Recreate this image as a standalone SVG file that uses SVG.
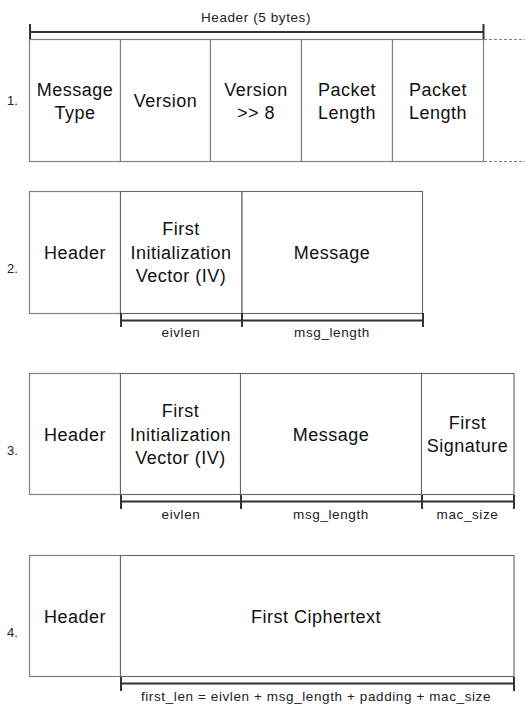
<svg xmlns="http://www.w3.org/2000/svg" width="525" height="705" viewBox="0 0 525 705">
<style>
.box{fill:#fff;stroke:#808080;stroke-width:1.2}
.box2{fill:#fff;stroke:#666;stroke-width:1.1}
.t{font-family:"Liberation Sans",Arial,sans-serif;font-size:18px;letter-spacing:0.5px;fill:#111;text-anchor:middle}
.s{font-family:"Liberation Sans",Arial,sans-serif;font-size:13.5px;letter-spacing:0.6px;fill:#222;text-anchor:middle}
.n{font-family:"Liberation Sans",Arial,sans-serif;font-size:13px;fill:#222;text-anchor:start}
.br{stroke:#333;stroke-width:2;fill:none}
.dash{stroke:#808080;stroke-width:1;stroke-dasharray:3,2;fill:none}
</style>
<rect width="525" height="705" fill="#fff"/>
<g id="row1">
  <text class="s" x="256" y="22">Header (5 bytes)</text>
  <text class="n" x="7" y="105">1.</text>
  <g id="r1-msgtype"><rect class="box" x="29.5" y="39.5" width="91" height="122"/><text class="t" x="75" y="96">Message</text><text class="t" x="75" y="119">Type</text></g>
  <g id="r1-version"><rect class="box" x="120.5" y="39.5" width="90" height="122"/><text class="t" x="165.5" y="107">Version</text></g>
  <g id="r1-version8"><rect class="box" x="210.5" y="39.5" width="91" height="122"/><text class="t" x="256" y="96">Version</text><text class="t" x="256" y="119">&gt;&gt; 8</text></g>
  <g id="r1-plen1"><rect class="box" x="301.5" y="39.5" width="91" height="122"/><text class="t" x="347" y="96">Packet</text><text class="t" x="347" y="119">Length</text></g>
  <g id="r1-plen2"><rect class="box" x="392.5" y="39.5" width="91" height="122"/><text class="t" x="438" y="96">Packet</text><text class="t" x="438" y="119">Length</text></g>
</g>
<g id="row2">
  <text class="n" x="7" y="273">2.</text>
  <g id="r2-header"><rect class="box" x="29.5" y="191.5" width="91" height="122"/><text class="t" x="75" y="259">Header</text></g>
  <g id="r2-iv"><rect class="box2" x="120.5" y="191.5" width="121.5" height="122"/><text class="t" x="181" y="235">First</text><text class="t" x="181" y="259">Initialization</text><text class="t" x="181" y="282">Vector (IV)</text></g>
  <g id="r2-msg"><rect class="box2" x="242" y="191.5" width="180.5" height="122"/><text class="t" x="332" y="259">Message</text></g>
  <text class="s" x="181" y="337">eivlen</text>
  <text class="s" x="332" y="337">msg_length</text>
</g>
<g id="row3">
  <text class="n" x="7" y="455">3.</text>
  <g id="r3-header"><rect class="box" x="29.5" y="373.5" width="91" height="121"/><text class="t" x="75" y="441">Header</text></g>
  <g id="r3-iv"><rect class="box2" x="120.5" y="373.5" width="120" height="121"/><text class="t" x="180.5" y="417">First</text><text class="t" x="180.5" y="441">Initialization</text><text class="t" x="180.5" y="464">Vector (IV)</text></g>
  <g id="r3-msg"><rect class="box2" x="240.5" y="373.5" width="181" height="121"/><text class="t" x="331" y="441">Message</text></g>
  <g id="r3-sig"><rect class="box2" x="421.5" y="373.5" width="92.5" height="121"/><text class="t" x="467.5" y="429">First</text><text class="t" x="467.5" y="452">Signature</text></g>
  <text class="s" x="181" y="519">eivlen</text>
  <text class="s" x="331" y="519">msg_length</text>
  <text class="s" x="467.5" y="519">mac_size</text>
</g>
<g id="row4">
  <text class="n" x="7" y="637">4.</text>
  <g id="r4-header"><rect class="box" x="29.5" y="555.5" width="91" height="121"/><text class="t" x="75" y="623">Header</text></g>
  <g id="r4-cipher"><rect class="box2" x="120.5" y="555.5" width="393.5" height="121"/><text class="t" x="316" y="623">First Ciphertext</text></g>
  <text class="s" x="316" y="701">first_len = eivlen + msg_length + padding + mac_size</text>
</g>
<g id="connectors">
  <path class="br" d="M30 32H483.5M30 24V39M483.5 24V39"/>
  <path class="dash" d="M484 39.5H525M484 161.5H525"/>
  <path class="br" d="M121 320.5H423M121 313V327M242 313V327M423 313V327"/>
  <path class="br" d="M121 501.5H514M121 495V509M241 495V509M422 495V509M514 495V509"/>
  <path class="br" d="M121 683.5H514M121 677V691M514 677V691"/>
</g>
</svg>
